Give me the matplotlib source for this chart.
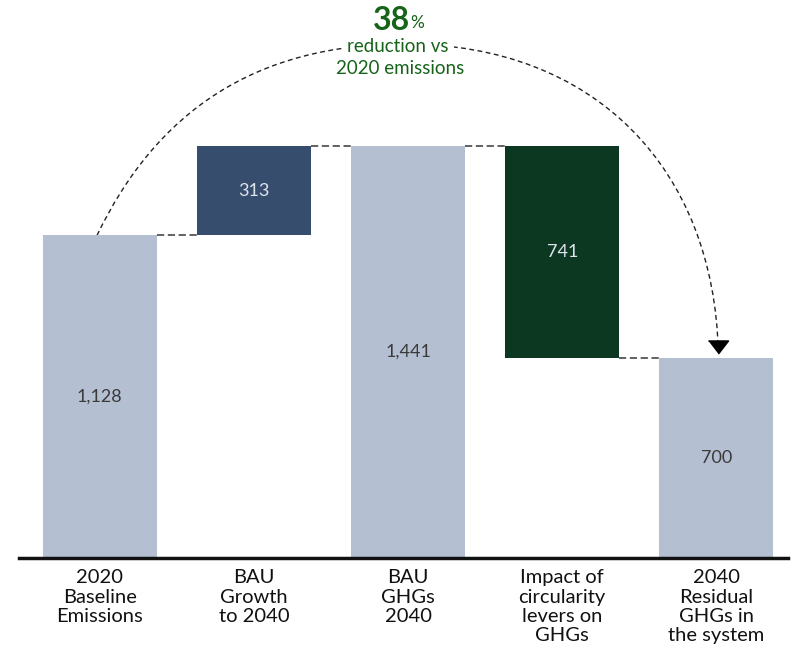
import matplotlib
matplotlib.use("Agg")
import matplotlib.pyplot as plt
from matplotlib.path import Path
from matplotlib.patches import PathPatch

plt.rcParams['font.family'] = ['Lato', 'DejaVu Sans']

# ---- data ----
categories = ["2020\nBaseline\nEmissions", "BAU\nGrowth\nto 2040", "BAU\nGHGs\n2040",
              "Impact of\ncircularity\nlevers on\nGHGs", "2040\nResidual\nGHGs in\nthe system"]
values = [1128, 313, 1441, 741, 700]
kinds = ["total", "increase", "total", "decrease", "total"]
value_labels = ["1,128", "313", "1,441", "741", "700"]
reduction_pct = "38"

# ---- styles ----
LIGHT = "#b4bfd2"
BLUE = "#364d6e"
GREEN = "#0c3822"
TXT_GREEN = "#16631a"
colors = {"total": LIGHT, "increase": BLUE, "decrease": GREEN}
label_colors = {"total": "#3a3a3a", "increase": "#dfe4ec", "decrease": "#dfe4ec"}

fig = plt.figure(figsize=(7.93, 6.64), dpi=100)
ax = fig.add_axes([0.024, 0.1596, 0.9697, 0.8404])
ax.set_xlim(-0.5227, 4.464)
ax.set_ylim(0, 1951)

width = 0.739
bottoms = []
running = 0
for v, k in zip(values, kinds):
    if k == "total":
        b = 0
        running = v
    elif k == "increase":
        b = running
        running = running + v
    else:
        running = running - v
        b = running
    bottoms.append(b)

xs = list(range(len(values)))
ax.bar(xs, values, width=width, bottom=bottoms,
       color=[colors[k] for k in kinds], zorder=2)

# value labels
for x, v, b, k, lab in zip(xs, values, bottoms, kinds, value_labels):
    ax.text(x, b + v / 2, lab, ha="center", va="center", fontsize=13,
            fontweight="normal", color=label_colors[k], zorder=3)

# connectors
tops = [b + v for b, v in zip(bottoms, values)]
for i in range(len(values) - 1):
    if kinds[i] == "decrease":
        y = bottoms[i]
    elif kinds[i + 1] == "total":
        y = tops[i + 1]
    else:
        y = tops[i]
    ax.plot([i + width / 2, i + 1 - width / 2], [y, y], color="#555555",
            lw=1.3, ls=(0, (4, 2)), zorder=1)

# arc from bar 1 to bar 5
start = (xs[0] - 0.017, values[0])
end = (xs[-1] + 0.012, values[-1] + 20)
apex_y = 1797
apex = (1.981, apex_y)
verts = [start, (0.368, 1560), (1.008, apex_y), apex,
         (3.213, apex_y), (3.984, 1360), end]
codes = [Path.MOVETO, Path.CURVE4, Path.CURVE4, Path.CURVE4,
         Path.CURVE4, Path.CURVE4, Path.CURVE4]
ax.add_patch(PathPatch(Path(verts, codes), fill=False, ec="#222222", lw=1.0,
                       ls=(0, (3.5, 2.5)), zorder=1, clip_on=False))
ax.plot([end[0]], [values[-1] + 38], marker=[(-1, 0.65), (1, 0.65), (0, -0.65)],
        ms=14.5, color="black", zorder=4, clip_on=False)

# annotation text
ax.text(2.013, 1880, reduction_pct, ha="right", va="center", fontsize=23,
        fontweight="bold", color=TXT_GREEN, zorder=5, clip_on=False)
ax.text(2.013, 1872, "%", ha="left", va="center", fontsize=12.5,
        color=TXT_GREEN, zorder=5, clip_on=False)
ax.text(1.935, 1787, "reduction vs", ha="center", va="center",
        fontsize=13.5, color=TXT_GREEN, zorder=5,
        bbox=dict(boxstyle="square,pad=0.3", fc="white", ec="none"), clip_on=False)
ax.text(1.946, 1710, "2020 emissions", ha="center", va="center",
        fontsize=13.5, color=TXT_GREEN, zorder=5, clip_on=False)

# axes styling
for s in ["top", "right", "left"]:
    ax.spines[s].set_visible(False)
ax.spines["bottom"].set_linewidth(2.5)
ax.spines["bottom"].set_color("#111111")
ax.set_yticks([])
ax.set_xticks(xs)
ax.set_xticklabels(categories, fontsize=14.5, linespacing=1.17, color="#111111")
ax.tick_params(axis="x", length=0, pad=8)

fig.savefig("out.png", dpi=100)
